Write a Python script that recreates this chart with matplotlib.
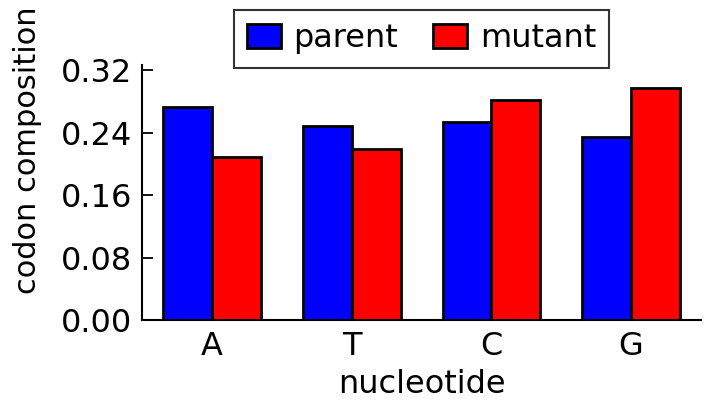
import numpy as np
import matplotlib
matplotlib.use('Agg')
import matplotlib.pyplot as plt

nucleotides = ['A', 'T', 'C', 'G']
parent = [0.2725, 0.2485, 0.2535, 0.2340]
mutant = [0.2085, 0.2190, 0.2815, 0.2970]
yticks = [0.00, 0.08, 0.16, 0.24, 0.32]

plt.rcParams['font.family'] = 'DejaVu Sans'
plt.rcParams['font.size'] = 23

fig = plt.figure(figsize=(7.08, 4.09), dpi=100)
ax = fig.add_axes([0.201, 0.2176, 0.789, 0.6234])

x = np.arange(len(nucleotides))
w = 0.35
ax.bar(x - w / 2, parent, w, color='#0000ff', edgecolor='black', linewidth=2, label='parent')
ax.bar(x + w / 2, mutant, w, color='#ff0000', edgecolor='black', linewidth=2, label='mutant')

ax.set_xlim(-0.5, 3.5)
ax.set_ylim(0, 0.3265)
ax.set_xticks(x)
ax.set_xticklabels(nucleotides)
ax.set_yticks(yticks)
ax.set_yticklabels(['%.2f' % v for v in yticks])
ax.tick_params(axis='y', direction='in', length=8, width=1.3, pad=7)
ax.tick_params(axis='x', length=0, pad=8)

for s in ['top', 'right']:
    ax.spines[s].set_visible(False)
for s in ['left', 'bottom']:
    ax.spines[s].set_linewidth(1.5)

ax.set_xlabel('nucleotide', labelpad=5)
ax.set_ylabel('codon composition', fontsize=22)
ax.yaxis.set_label_coords(-0.18, 0.667)

leg = ax.legend(loc='lower center', bbox_to_anchor=(0.5, 0.99), ncol=2, fancybox=False,
                borderaxespad=0, handlelength=1.05, handleheight=0.75,
                handletextpad=0.4, columnspacing=1.1, borderpad=0.42)
leg.get_frame().set_edgecolor('black')
leg.get_frame().set_linewidth(1.5)

fig.savefig('out.png', dpi=100)
